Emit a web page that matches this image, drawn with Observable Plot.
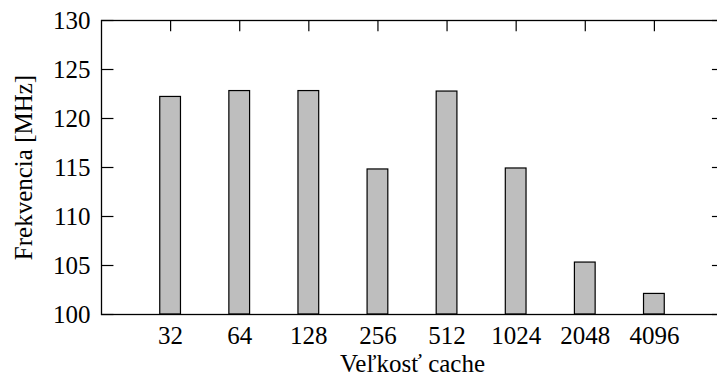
<!DOCTYPE html>
<html>
<head>
<meta charset="utf-8">
<script src="https://cdn.jsdelivr.net/npm/d3@7"></script>
<script src="https://cdn.jsdelivr.net/npm/@observablehq/plot@0.6"></script>
<style>
  html, body { margin: 0; padding: 0; background: white; overflow: hidden; }
  #chart { width: 717px; height: 376px; overflow: hidden; }
</style>
</head>
<body>
<div id="chart"></div>
<script>
const categories = ["32", "64", "128", "256", "512", "1024", "2048", "4096"];
const frequency = [122.2, 122.8, 122.8, 114.8, 122.75, 114.9, 105.3, 102.1];
const yTicks = [100, 105, 110, 115, 120, 125, 130];
const xTitle = "Veľkosť cache";
const yTitle = "Frekvencia [MHz]";

const data = categories.map((c, i) => ({cat: c, pos: i + 1, freq: frequency[i]}));
const positions = data.map(d => d.pos);

const chart = Plot.plot({
  width: 717,
  height: 376,
  marginLeft: 101,
  marginRight: -6,
  marginTop: 20,
  marginBottom: 62,
  style: {fontFamily: "'Liberation Serif', 'DejaVu Serif', serif", fontSize: "25px", color: "black", background: "white"},
  x: {type: "linear", domain: [0, 9]},
  y: {type: "linear", domain: [100, 130]},
  marks: [
    // inward ticks (gnuplot style)
    Plot.ruleY(yTicks, {y: d => d, x1: 0, x2: 0.18, stroke: "black", strokeWidth: 1.2}),
    Plot.ruleY(yTicks, {y: d => d, x1: 9 - 0.16, x2: 9, stroke: "black", strokeWidth: 1.2}),
    Plot.ruleX(positions, {x: d => d, y1: 130, y2: 130 - 1.15, stroke: "black", strokeWidth: 1.2}),
    Plot.ruleX(positions, {x: d => d, y1: 100, y2: 101.15, stroke: "black", strokeWidth: 1.2}),
    // bars
    Plot.rect(data, {
      x1: d => d.pos - 0.15,
      x2: d => d.pos + 0.15,
      y1: 100,
      y2: "freq",
      fill: "#bebebe",
      stroke: "black",
      strokeWidth: 1.2
    }),
    Plot.frame({stroke: "black", strokeWidth: 1.3}),
    Plot.axisY({ticks: yTicks, tickSize: 0, tickPadding: 11, label: null, tickFormat: d => String(d)}),
    Plot.axisX({ticks: positions, tickSize: 0, tickPadding: 12, label: null, tickFormat: d => categories[d - 1]}),
    Plot.text([xTitle], {text: d => d, frameAnchor: "bottom", dy: 49, lineAnchor: "middle", textAnchor: "middle", fill: "black"}),
    Plot.text([yTitle], {text: d => d, frameAnchor: "left", dx: -78, rotate: -90, lineAnchor: "middle", textAnchor: "middle", fill: "black"})
  ]
});

document.getElementById("chart").appendChild(chart);
</script>
</body>
</html>
